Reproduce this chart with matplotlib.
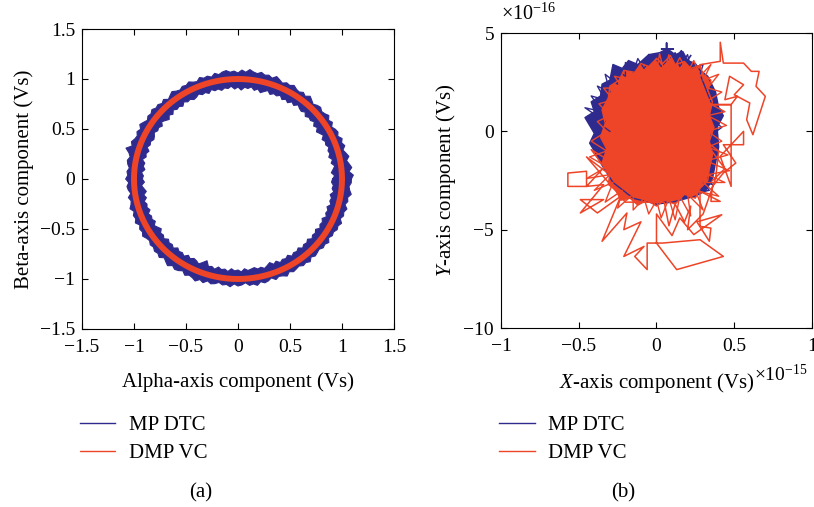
import numpy as np
import matplotlib
matplotlib.use("Agg")
import matplotlib.pyplot as plt
from matplotlib.ticker import FixedLocator, FuncFormatter

plt.rcParams['font.family'] = ['Liberation Serif', 'DejaVu Serif']
plt.rcParams['mathtext.fontset'] = 'custom'
plt.rcParams['mathtext.rm'] = 'Liberation Serif'
plt.rcParams['mathtext.it'] = 'Liberation Serif:italic'

BLUE = '#2f2b8e'
RED = '#ee4427'

# ---- (a) stator flux locus: alpha/beta components (Vs) ----
angle_step_deg = 2  # envelope sampled every 2 degrees, starting on +alpha axis
mp_outer = [1.09, 1.11, 1.07, 1.10, 1.08, 1.06, 1.09, 1.07, 1.05, 1.08,
            1.06, 1.08, 1.05, 1.07, 1.06, 1.04, 1.07, 1.05, 1.08, 1.06,
            1.05, 1.07, 1.06, 1.04, 1.06, 1.08, 1.05, 1.07, 1.05, 1.06,
            1.08, 1.06, 1.07, 1.05, 1.07, 1.09, 1.06, 1.08, 1.07, 1.09,
            1.07, 1.08, 1.10, 1.07, 1.09, 1.06, 1.08, 1.07, 1.09, 1.08,
            1.06, 1.08, 1.05, 1.07, 1.06, 1.08, 1.05, 1.06, 1.08, 1.06,
            1.07, 1.05, 1.06, 1.08, 1.06, 1.04, 1.07, 1.05, 1.07, 1.06,
            1.08, 1.06, 1.07, 1.05, 1.07, 1.09, 1.06, 1.08, 1.06, 1.07,
            1.09, 1.07, 1.12, 1.08, 1.06, 1.08, 1.07, 1.05, 1.07, 1.06,
            1.08, 1.05, 1.07, 1.06, 1.04, 1.07, 1.05, 1.06, 1.08, 1.05,
            1.07, 1.06, 1.08, 1.05, 1.07, 1.06, 1.08, 1.06, 1.05, 1.07,
            1.06, 1.08, 1.07, 1.09, 1.06, 1.08, 1.10, 1.07, 1.09, 1.08,
            1.06, 1.09, 1.07, 1.08, 1.10, 1.07, 1.09, 1.06, 1.08, 1.07,
            1.05, 1.07, 1.06, 1.08, 1.05, 1.07, 1.06, 1.04, 1.07, 1.06,
            1.08, 1.05, 1.07, 1.06, 1.04, 1.07, 1.05, 1.06, 1.08, 1.05,
            1.07, 1.06, 1.05, 1.07, 1.06, 1.08, 1.05, 1.07, 1.06, 1.05,
            1.07, 1.06, 1.08, 1.05, 1.07, 1.06, 1.08, 1.07, 1.09, 1.06,
            1.08, 1.07, 1.09, 1.06, 1.08, 1.07, 1.10, 1.08, 1.07, 1.09]
mp_inner = [0.91, 0.93, 0.90, 0.92, 0.94, 0.91, 0.93, 0.90, 0.92, 0.91,
            0.93, 0.91, 0.92, 0.90, 0.93, 0.91, 0.89, 0.92, 0.90, 0.93,
            0.91, 0.92, 0.90, 0.93, 0.91, 0.92, 0.94, 0.91, 0.93, 0.90,
            0.92, 0.90, 0.93, 0.91, 0.92, 0.90, 0.93, 0.91, 0.89, 0.92,
            0.90, 0.93, 0.91, 0.92, 0.89, 0.92, 0.90, 0.93, 0.91, 0.92,
            0.90, 0.92, 0.91, 0.93, 0.90, 0.92, 0.91, 0.93, 0.91, 0.90,
            0.92, 0.91, 0.93, 0.90, 0.92, 0.91, 0.93, 0.90, 0.92, 0.89,
            0.91, 0.93, 0.90, 0.92, 0.91, 0.93, 0.91, 0.90, 0.92, 0.91,
            0.93, 0.90, 0.92, 0.91, 0.94, 0.91, 0.92, 0.90, 0.93, 0.91,
            0.92, 0.90, 0.93, 0.91, 0.89, 0.92, 0.90, 0.93, 0.91, 0.92,
            0.90, 0.93, 0.91, 0.92, 0.90, 0.93, 0.91, 0.89, 0.92, 0.91,
            0.93, 0.90, 0.92, 0.91, 0.93, 0.90, 0.92, 0.91, 0.93, 0.90,
            0.92, 0.90, 0.91, 0.93, 0.90, 0.87, 0.92, 0.91, 0.93, 0.90,
            0.92, 0.91, 0.93, 0.90, 0.92, 0.91, 0.93, 0.90, 0.92, 0.91,
            0.90, 0.92, 0.91, 0.93, 0.91, 0.89, 0.92, 0.90, 0.93, 0.91,
            0.92, 0.90, 0.93, 0.91, 0.92, 0.90, 0.93, 0.91, 0.92, 0.90,
            0.93, 0.91, 0.92, 0.90, 0.93, 0.91, 0.92, 0.90, 0.93, 0.91,
            0.92, 0.90, 0.93, 0.91, 0.92, 0.90, 0.93, 0.91, 0.92, 0.90]
dmp_radius = 1.0
ticks_a = [-1.5, -1, -0.5, 0, 0.5, 1, 1.5]

# ---- (b) flux components, x in 1e-15 Vs, y in 1e-16 Vs ----
mp_blob_x = [-0.05, 0.02, 0.07, 0.12, 0.17, 0.20, 0.25, 0.28, 0.33, 0.38, 0.40, 0.43,
             0.39, 0.40, 0.38, 0.36, 0.32, 0.25, 0.10, 0.00, -0.15, -0.28, -0.36,
             -0.40, -0.43, -0.40, -0.46, -0.40, -0.42, -0.36, -0.35, -0.30, -0.28,
             -0.22, -0.18, -0.12]
mp_blob_y = [3.90, 4.00, 4.20, 3.90, 4.05, 3.60, 3.45, 3.10, 2.80, 2.00, 1.20, 0.80,
             0.20, -0.80, -1.60, -2.40, -3.00, -3.30, -3.60, -3.70, -3.40, -2.60, -1.60,
             -1.00, -0.60, -0.10, 0.70, 1.00, 1.50, 1.80, 2.40, 2.60, 3.40,
             3.20, 3.60, 3.40]
mp_fringe_x = [-0.30, -0.44, -0.33, -0.46, -0.35, -0.42, -0.33, -0.38, -0.30, -0.33,
               -0.25, -0.27, -0.20, -0.20, -0.15, -0.12, -0.08, -0.02, 0.03, 0.12,
               0.15, 0.20, 0.22, 0.30, 0.28, 0.35, 0.43, 0.36, 0.42, 0.35, 0.40,
               0.33, 0.36, 0.30, 0.34, 0.28]
mp_fringe_y = [0.00, 0.80, 0.50, 1.20, 1.00, 1.80, 1.60, 2.30, 2.00, 2.90,
               2.40, 3.20, 2.80, 3.50, 3.00, 3.70, 3.20, 3.90, 3.30, 4.00,
               3.30, 3.90, 3.20, 3.40, 2.90, 1.50, 1.00, 0.60, 0.20, -0.20, -1.00,
               -2.40, -2.70, -2.60, -3.00, -3.10]
mp_spike_x = [0.065, 0.065, 0.065, 0.033, 0.108, 0.065, 0.12, 0.16, 0.19, 0.22]
mp_spike_y = [3.90, 4.49, 4.19, 4.19, 4.19, 4.19, 3.70, 4.10, 3.50, 3.85]

dmp_core_x = [0.00, 0.04, 0.09, 0.12, 0.18, 0.22, 0.28, 0.30, 0.35, 0.33, 0.36, 0.34,
              0.37, 0.34, 0.36, 0.34, 0.33, 0.28, 0.25, 0.18, 0.12, 0.05, 0.00, -0.06,
              -0.12, -0.17, -0.23, -0.26, -0.31, -0.30, -0.35, -0.32, -0.36, -0.33,
              -0.35, -0.31, -0.30, -0.24, -0.21, -0.14, -0.10, -0.05]
dmp_core_y = [3.70, 3.45, 3.85, 3.40, 3.55, 3.20, 3.35, 2.90, 2.60, 2.10, 1.50, 0.80,
              0.20, -0.50, -1.20, -1.90, -2.50, -2.90, -3.40, -3.20, -3.70, -3.50, -3.80, -3.50,
              -3.75, -3.40, -3.50, -3.00, -2.70, -2.10, -1.60, -0.90, -0.30, 0.40,
              1.10, 1.70, 2.30, 2.60, 3.10, 3.00, 3.45, 3.30]
dmp_fringe_x = [0.00, 0.02, 0.05, 0.08, 0.10, 0.15, 0.20, 0.24, 0.28, 0.35, 0.30, 0.40,
                0.33, 0.42, 0.32, 0.44, 0.33, 0.45, 0.33, 0.42, 0.33, 0.46, 0.32, 0.47,
                0.33, 0.44, 0.30, 0.40, 0.25, 0.30, 0.20, 0.22, 0.15, 0.12, 0.08, 0.03,
                0.00, -0.05, -0.08, -0.15, -0.15, -0.25, -0.22, -0.33, -0.28, -0.40,
                -0.30, -0.45, -0.32, -0.43, -0.32, -0.42, -0.32, -0.38, -0.30, -0.37,
                -0.28, -0.34, -0.22, -0.27, -0.15]
dmp_fringe_y = [3.00, 3.95, 3.00, 3.90, 3.00, 3.75, 3.00, 3.60, 2.80, 3.40, 2.60, 2.90,
                2.20, 2.00, 1.50, 1.00, 0.80, 0.30, 0.00, -0.50, -0.80, -1.20, -1.50, -2.00,
                -2.20, -2.60, -2.60, -3.30, -3.00, -4.00, -3.20, -4.30, -3.30, -4.50, -3.40, -4.40,
                -3.50, -4.20, -3.40, -4.00, -3.20, -3.90, -3.00, -3.60, -2.60, -3.00,
                -2.20, -2.40, -1.80, -1.30, -1.00, -0.50, 0.00, 0.50, 0.80, 1.40,
                1.60, 2.20, 2.20, 2.80, 2.60]
dmp_path_x = [0.25, 0.28, 0.41, 0.41, 0.43, 0.56, 0.61, 0.66, 0.64, 0.70, 0.62, 0.58,
              0.60, 0.50, 0.56, 0.47, 0.44, 0.52, 0.48, 0.35, 0.48, 0.48, 0.41, 0.56,
              0.56, 0.43, 0.51, 0.43, 0.36, 0.35, 0.41, 0.28, 0.28, 0.35, 0.34, 0.26,
              0.42, 0.24, 0.15, 0.10, 0.00, 0.00, 0.13, 0.43, 0.28, 0.04, -0.06, -0.06,
              -0.14, -0.08, -0.21, -0.10, -0.21, -0.19, -0.35, -0.23, -0.38, -0.49,
              -0.34, -0.49, -0.34, -0.45, -0.45, -0.57, -0.57, -0.45, -0.30, -0.42,
              -0.30, -0.45, -0.20, 0.05, 0.08, 0.12, 0.18, 0.22, 0.20, 0.30, 0.38,
              0.40, 0.30, 0.44, 0.36]
dmp_path_y = [3.00, 3.39, 3.56, 4.53, 3.47, 3.47, 3.05, 3.05, 2.29, 1.78, -0.17, 0.59,
              1.44, 1.86, 2.37, 2.80, 1.61, 1.78, 1.36, 1.36, 1.36, -2.80, -1.27, 0.00,
              -0.68, -0.68, -1.61, -2.12, -2.80, -3.56, -3.56, -3.05, -4.83, -4.92, -5.59, -4.60,
              -4.24, -5.25, -4.40, -5.30, -4.20, -5.68, -7.03, -6.36, -5.51, -5.68, -5.68, -7.03,
              -6.36, -5.85, -6.36, -4.60, -5.00, -4.15, -5.59, -3.30, -4.15, -3.47,
              -3.47, -4.15, -2.71, -2.80, -2.03, -2.12, -2.80, -2.80, -1.50, -0.93,
              -2.20, -1.30, -3.60, -3.60, -4.80, -3.70, -4.60, -3.80, -5.00, -4.20, -2.40,
              -1.00, -0.40, -1.90, -2.50]
ticks_bx = [-1, -0.5, 0, 0.5, 1]
ticks_by = [-10, -5, 0, 5]


def fmt(v, _pos=None):
    s = '%g' % v
    return s.replace('-', '\u2212')


def style_axes(ax, xt, yt):
    ax.xaxis.set_major_locator(FixedLocator(xt))
    ax.yaxis.set_major_locator(FixedLocator(yt))
    ax.xaxis.set_major_formatter(FuncFormatter(fmt))
    ax.yaxis.set_major_formatter(FuncFormatter(fmt))
    ax.tick_params(direction='in', top=True, right=True, length=4, width=0.8,
                   labelsize=14)
    ax.tick_params(axis='x', pad=7)
    ax.tick_params(axis='y', pad=5)
    for sp in ax.spines.values():
        sp.set_linewidth(0.8)


fig = plt.figure(figsize=(8.14, 5.07), dpi=100)

# ---------- panel (a) ----------
ax1 = fig.add_axes([0.1007, 0.3511, 0.3833, 0.5917])
theta = np.deg2rad(np.arange(len(mp_outer)) * angle_step_deg)
theta_c = np.append(theta, theta[0])
ro = np.append(mp_outer, mp_outer[0])
ri = np.append(mp_inner, mp_inner[0])
xo, yo = ro * np.cos(theta_c), ro * np.sin(theta_c)
xi, yi = ri * np.cos(theta_c), ri * np.sin(theta_c)
ax1.fill(np.concatenate([xo, xi[::-1]]), np.concatenate([yo, yi[::-1]]),
         color=BLUE, lw=0)
mp_line_a, = ax1.plot(xo, yo, color=BLUE, lw=0.8)
ax1.plot(xi, yi, color=BLUE, lw=0.8)
tt = np.linspace(0, 2 * np.pi, 361)
dmp_line_a, = ax1.plot(dmp_radius * np.cos(tt), dmp_radius * np.sin(tt),
                       color=RED, lw=4.3, solid_capstyle='round')
ax1.set_xlim(-1.5, 1.5)
ax1.set_ylim(-1.5, 1.5)
style_axes(ax1, ticks_a, ticks_a)
ax1.set_xlabel('Alpha-axis component (Vs)', fontsize=15, labelpad=12)
ax1.set_ylabel('Beta-axis component (Vs)', fontsize=15, labelpad=4)

# ---------- panel (b) ----------
ax2 = fig.add_axes([0.6155, 0.353, 0.382, 0.5819])
ax2.fill(mp_blob_x, mp_blob_y, color=BLUE, lw=0)
ax2.plot(mp_blob_x + mp_blob_x[:1], mp_blob_y + mp_blob_y[:1], color=BLUE, lw=1.0)
ax2.plot(mp_fringe_x, mp_fringe_y, color=BLUE, lw=1.0)
mp_line_b, = ax2.plot(mp_spike_x, mp_spike_y, color=BLUE, lw=1.2)
ax2.fill(dmp_core_x, dmp_core_y, color=RED, lw=0)
ax2.plot(dmp_core_x + dmp_core_x[:1], dmp_core_y + dmp_core_y[:1], color=RED, lw=1.0)
ax2.plot(dmp_fringe_x, dmp_fringe_y, color=RED, lw=1.0)
dmp_line_b, = ax2.plot(dmp_path_x, dmp_path_y, color=RED, lw=1.1)
ax2.set_xlim(-1, 1)
ax2.set_ylim(-10, 5)
style_axes(ax2, ticks_bx, ticks_by)
ax2.set_xlabel(r'$\it{X}$-axis component (Vs)', fontsize=15, labelpad=12)
ax2.set_ylabel(r'$\it{Y}$-axis component (Vs)', fontsize=15, labelpad=4)
fig.text(0.616, 0.972, r'$\times10^{-16}$', fontsize=14.5, ha='left', va='center')
fig.text(0.926, 0.262, r'$\times10^{-15}$', fontsize=14, ha='left', va='center')

# ---------- legends and captions ----------
for ax, h1, h2, x0 in [(ax1, mp_line_a, dmp_line_a, 0.088), (ax2, mp_line_b, dmp_line_b, 0.603)]:
    fig.legend([h1, h2], ['MP DTC', 'DMP VC'], loc='upper left',
               bbox_to_anchor=(x0, 0.197), frameon=False, fontsize=15,
               handlelength=1.7, handletextpad=0.65, labelspacing=0.42,
               borderaxespad=0)
    for line in fig.legends[-1].get_lines():
        line.set_linewidth(1.0)

fig.text(0.246, 0.028, '(a)', fontsize=15, ha='center', va='center')
fig.text(0.766, 0.028, '(b)', fontsize=15, ha='center', va='center')

fig.savefig('out.png', dpi=100)
